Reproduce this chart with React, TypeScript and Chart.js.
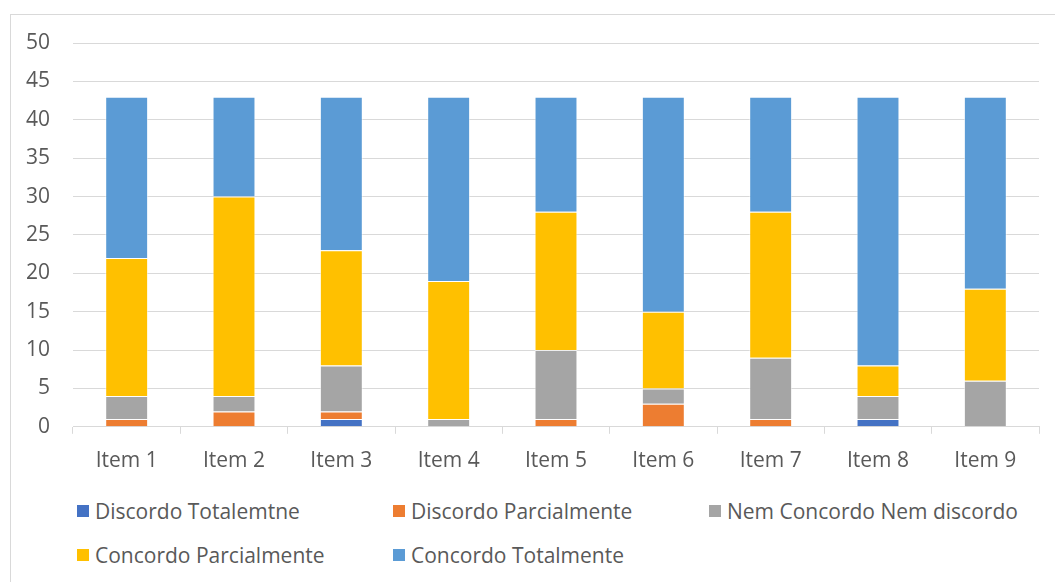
import React, { useEffect, useRef } from "react";
import { Chart, registerables } from "chart.js";

Chart.register(...registerables);

const categories = ["Item 1", "Item 2", "Item 3", "Item 4", "Item 5", "Item 6", "Item 7", "Item 8", "Item 9"];
const discordoTotalmente = [0, 0, 1, 0, 0, 0, 0, 1, 0];
const discordoParcialmente = [1, 2, 1, 0, 1, 3, 1, 0, 0];
const nemConcordoNemDiscordo = [3, 2, 6, 1, 9, 2, 8, 3, 6];
const concordoParcialmente = [18, 26, 15, 18, 18, 10, 19, 4, 12];
const concordoTotalmente = [21, 13, 20, 24, 15, 28, 15, 35, 25];

const seriesNames = [
  "Discordo Totalemtne",
  "Discordo Parcialmente",
  "Nem Concordo Nem discordo",
  "Concordo Parcialmente",
  "Concordo Totalmente",
];
const seriesColors = ["#4472C4", "#ED7D31", "#A5A5A5", "#FFC000", "#5B9BD5"];
const seriesValues = [
  discordoTotalmente,
  discordoParcialmente,
  nemConcordoNemDiscordo,
  concordoParcialmente,
  concordoTotalmente,
];

const FONT = "'Open Sans', 'Noto Sans', sans-serif";
const TEXT = "#595959";
const FS = 21;

export default function App() {
  const ref = useRef<HTMLCanvasElement | null>(null);

  useEffect(() => {
    if (!ref.current) return;
    const chart = new Chart(ref.current, {
      type: "bar",
      data: {
        labels: categories,
        datasets: seriesNames.map((name, i) => ({
          label: name,
          data: seriesValues[i],
          backgroundColor: seriesColors[i],
          borderColor: "rgba(255,255,255,0.55)",
          borderWidth: 1,
          barPercentage: 0.4,
          categoryPercentage: 1,
        })),
      },
      options: {
        responsive: false,
        animation: false,
        maintainAspectRatio: false,
        layout: { padding: { top: 28, right: 16, bottom: 0, left: 0 } },
        plugins: { legend: { display: false }, tooltip: { enabled: false } },
        scales: {
          x: {
            stacked: true,
            grid: {
              display: true,
              drawOnChartArea: false,
              drawTicks: true,
              tickLength: 7,
              offset: true,
              color: "#d9d9d9",
            },
            border: { display: true, color: "#d9d9d9" },
            ticks: { color: TEXT, font: { family: FONT, size: FS }, padding: 15 },
          },
          y: {
            stacked: true,
            min: 0,
            max: 50,
            afterFit: (scale: any) => {
              scale.width = 62;
              scale.paddingTop = 0;
              scale.paddingBottom = 0;
            },
            grid: { color: "#d9d9d9", drawTicks: false },
            border: { display: false },
            ticks: { stepSize: 5, color: TEXT, font: { family: FONT, size: FS }, padding: 23 },
          },
        },
      },
    });
    return () => chart.destroy();
  }, []);

  const legendItem = (i: number) => (
    <div
      key={i}
      style={{ width: 316, display: "flex", alignItems: "center", height: 44 }}
    >
      <span
        style={{
          display: "inline-block",
          width: 12,
          height: 12,
          background: seriesColors[i],
          marginRight: 6,
        }}
      />
      <span>{seriesNames[i]}</span>
    </div>
  );

  return (
    <div
      style={{
        position: "absolute",
        left: 10,
        top: 14,
        width: 1060,
        height: 580,
        border: "1px solid #d9d9d9",
        boxSizing: "border-box",
        background: "#fff",
        fontFamily: FONT,
        color: TEXT,
        fontSize: FS,
      }}
    >
      <canvas ref={ref} width={1044} height={474} style={{ position: "absolute", left: 0, top: 0 }} />
      <div
        style={{
          position: "absolute",
          left: 66,
          top: 474,
          width: 960,
          display: "flex",
          flexWrap: "wrap",
        }}
      >
        {[0, 1, 2, 3, 4].map(legendItem)}
      </div>
    </div>
  );
}
